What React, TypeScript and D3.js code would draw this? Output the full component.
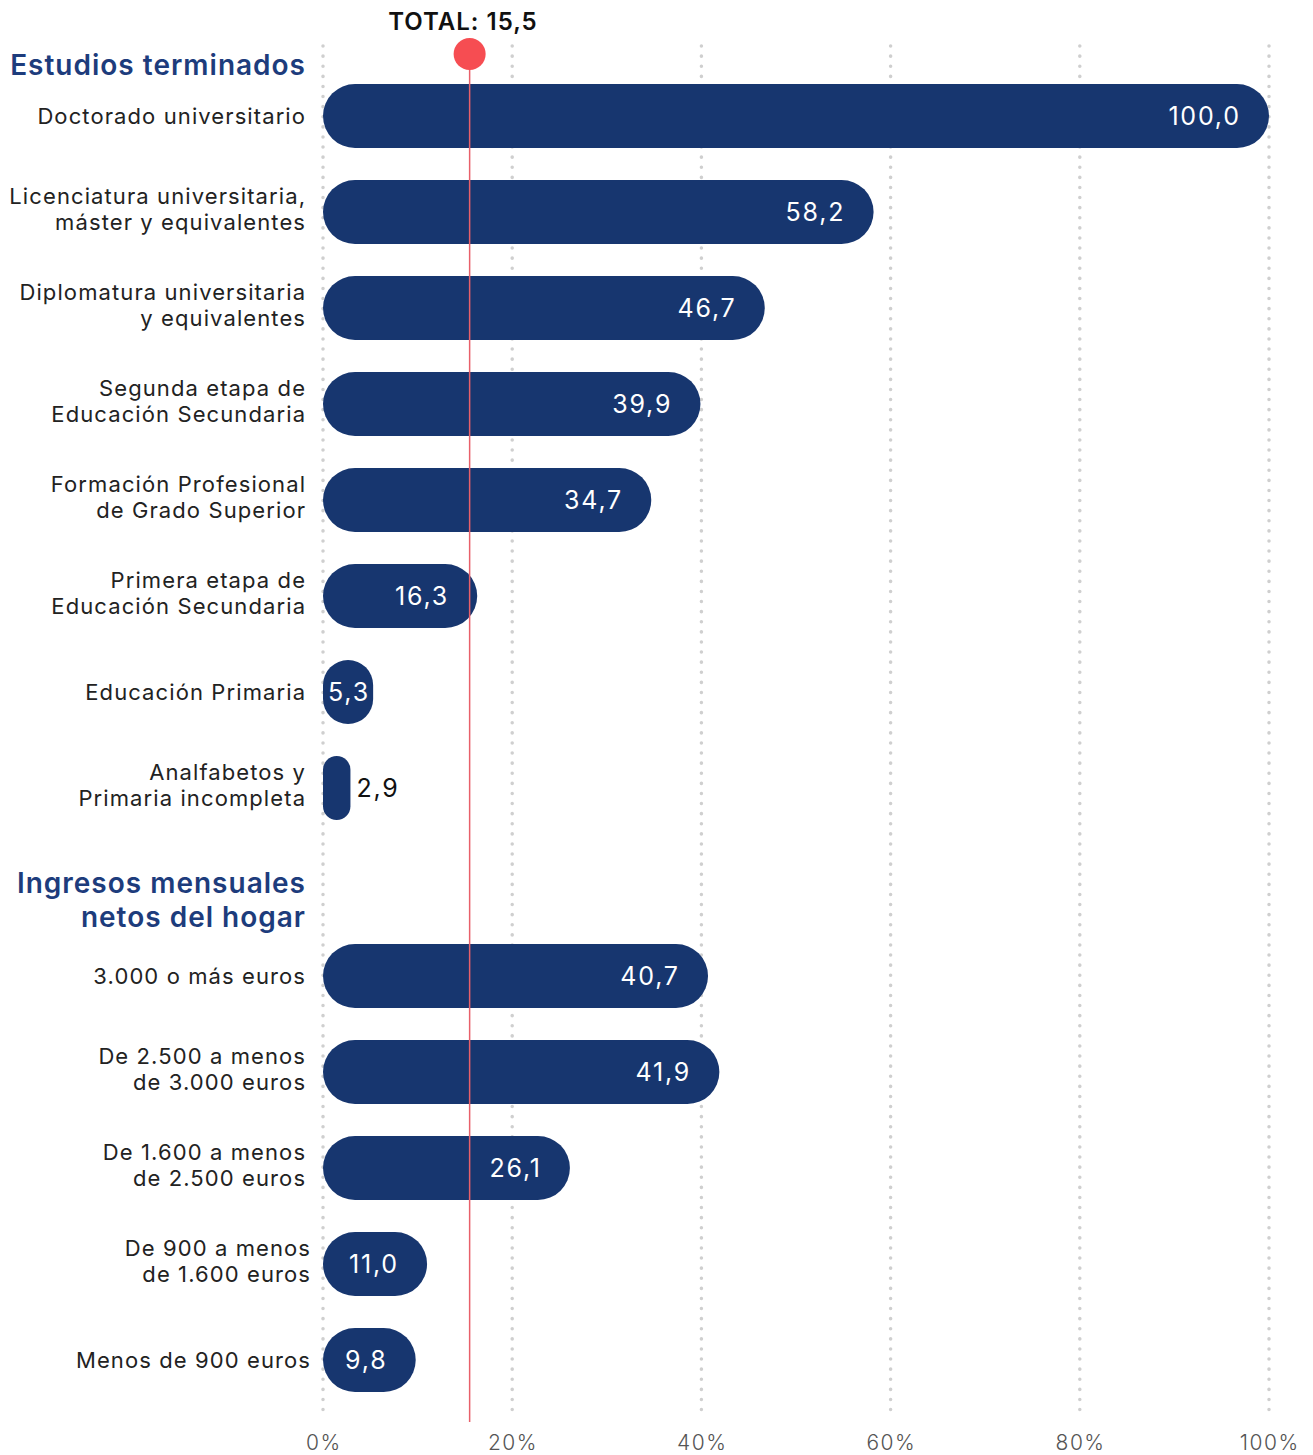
import React from "react";
import * as d3 from "d3";

const eduLabels = [
  ["Doctorado universitario"],
  ["Licenciatura universitaria,", "máster y equivalentes"],
  ["Diplomatura universitaria", "y equivalentes"],
  ["Segunda etapa de", "Educación Secundaria"],
  ["Formación Profesional", "de Grado Superior"],
  ["Primera etapa de", "Educación Secundaria"],
  ["Educación Primaria"],
  ["Analfabetos y", "Primaria incompleta"],
];
const eduValues = [100.0, 58.2, 46.7, 39.9, 34.7, 16.3, 5.3, 2.9];

const incLabels = [
  ["3.000 o más euros"],
  ["De 2.500 a menos", "de 3.000 euros"],
  ["De 1.600 a menos", "de 2.500 euros"],
  ["De 900 a menos", "de 1.600 euros"],
  ["Menos de 900 euros"],
];
const incValues = [40.7, 41.9, 26.1, 11.0, 9.8];

const ticks = [0, 20, 40, 60, 80, 100];
const total = 15.5;
const fmt = (v: number) => v.toFixed(1).replace(".", ",");

const W = 1313;
const H = 1455;
const BAR = "#17366f";
const HEAD = "#1d3c7c";
const FONT = "Inter, 'Open Sans', sans-serif";

export default function App() {
  const x = d3.scaleLinear().domain([0, 100]).range([323, 1269]);
  const y1 = d3.scalePoint<number>().domain(d3.range(eduValues.length)).range([116, 788]);
  const y2 = d3.scalePoint<number>().domain(d3.range(incValues.length)).range([976, 1360]);
  const bh = 64;
  const LS = 1.1;
  const VLS = 1.8;

  const rows = [
    ...eduValues.map((v, i) => ({ v, lab: eduLabels[i], y: y1(i)!, lx: 305 })),
    ...incValues.map((v, i) => ({ v, lab: incLabels[i], y: y2(i)!, lx: i >= 3 ? 310 : 305 })),
  ];

  return (
    <svg width={W} height={H} style={{ position: "absolute", left: 0, top: 0, background: "#fff" }} fontFamily={FONT}>
      {ticks.map((t) => (
        <g key={t}>
          <line x1={x(t)} x2={x(t)} y1={46} y2={1416} stroke="#cfcfcf" strokeWidth={3.5}
            strokeLinecap="round" strokeDasharray="0.1 10" />
          <text x={x(t) + 0.75} y={1442} textAnchor="middle" dominantBaseline="central" fontSize={21}
            fill="#555" fontWeight={300} letterSpacing={1.5}>{t}%</text>
        </g>
      ))}
      <text x={306} y={65} textAnchor="end" dominantBaseline="central" fontSize={28} fontWeight={600}
        fill={HEAD} letterSpacing={1}>
        Estudios terminados
      </text>
      <text textAnchor="end" fontSize={28} fontWeight={600} fill={HEAD} letterSpacing={1}>
        <tspan x={306} y={883} dominantBaseline="central">Ingresos mensuales</tspan>
        <tspan x={306} y={917} dominantBaseline="central">netos del hogar</tspan>
      </text>
      {rows.map((r, i) => {
        const x0 = x(0);
        const x1 = x(r.v);
        const w = x1 - x0;
        const rad = Math.min(bh / 2, w / 2);
        const txt = fmt(r.v);
        const tw = txt.length * (13 + VLS);
        let lx = x1 - 30 + VLS;
        let anchor: "end" | "middle" | "start" = "end";
        let fill = "#fff";
        if (w < 40) {
          lx = x1 + 6;
          anchor = "start";
          fill = "#111";
        } else if (lx - tw < x0 + 4) {
          lx = (x0 + x1) / 2 + VLS / 2;
          anchor = "middle";
        }
        const n = r.lab.length;
        const off = n > 1 ? -3 : 0;
        return (
          <g key={i}>
            <rect x={x0} y={r.y - bh / 2} width={w} height={bh} rx={rad} ry={rad} fill={BAR} />
            <text x={lx} y={r.y} textAnchor={anchor} dominantBaseline="central" fontSize={25} fill={fill}
              letterSpacing={VLS}>
              {txt}
            </text>
            <text textAnchor="end" fontSize={22} fill="#222" letterSpacing={LS}>
              {r.lab.map((l, j) => (
                <tspan key={j} x={r.lx + LS} y={r.y + off + (j - (n - 1) / 2) * 26.5} dominantBaseline="central">{l}</tspan>
              ))}
            </text>
          </g>
        );
      })}
      <line x1={x(total)} x2={x(total)} y1={54} y2={1422} stroke="#e8606a" strokeWidth={1.5} />
      <circle cx={x(total)} cy={54} r={16} fill="#f64d52" />
      <text x={463} y={21} textAnchor="middle" dominantBaseline="central" fontSize={24} fontWeight={600}
        fill="#111" letterSpacing={1}>
        TOTAL: 15,5
      </text>
    </svg>
  );
}
